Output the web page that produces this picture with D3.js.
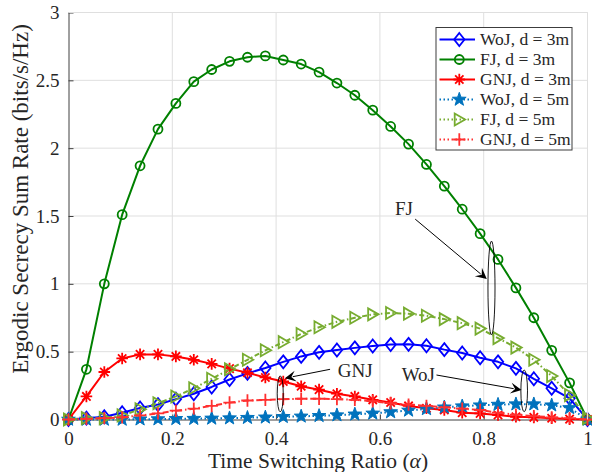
<!DOCTYPE html>
<html><head><meta charset="utf-8">
<script src="https://cdn.jsdelivr.net/npm/d3@7"></script>
<style>body{margin:0;background:#fff}svg{display:block}text{font-family:"Liberation Serif","DejaVu Serif",serif;fill:#262626}</style>
</head><body><svg id="c" width="592" height="472"></svg>
<script>
// ---- data ----
const alpha = [0,0.0345,0.069,0.1034,0.1379,0.1724,0.2069,0.2414,0.2759,0.3103,0.3448,0.3793,0.4138,0.4483,0.4828,0.5172,0.5517,0.5862,0.6207,0.6552,0.6897,0.7241,0.7586,0.7931,0.8276,0.8621,0.8966,0.931,0.9655,1];
const woj3 = [0,0.01,0.02,0.05,0.085,0.11,0.15,0.19,0.24,0.295,0.34,0.38,0.425,0.465,0.495,0.512,0.528,0.542,0.552,0.554,0.544,0.515,0.49,0.455,0.425,0.377,0.30,0.23,0.156,0];
const fj3  = [0,0.37,1.00,1.51,1.87,2.14,2.33,2.49,2.58,2.64,2.67,2.68,2.65,2.62,2.56,2.48,2.39,2.28,2.16,2.03,1.88,1.72,1.55,1.37,1.18,0.97,0.75,0.51,0.27,0];
const gnj3 = [0,0.17,0.35,0.45,0.48,0.48,0.465,0.44,0.41,0.375,0.345,0.31,0.28,0.245,0.22,0.19,0.17,0.145,0.125,0.10,0.083,0.07,0.05,0.045,0.033,0.02,0.016,0.009,0.003,0];
const woj5 = [0,0,0,0,0.002,0.003,0.005,0.006,0.008,0.01,0.013,0.016,0.02,0.023,0.027,0.032,0.038,0.045,0.055,0.067,0.078,0.09,0.098,0.105,0.11,0.113,0.113,0.105,0.085,0];
const fj5  = [0,0.01,0.01,0.03,0.075,0.12,0.17,0.23,0.30,0.37,0.44,0.51,0.57,0.63,0.68,0.72,0.75,0.775,0.785,0.78,0.765,0.74,0.71,0.67,0.60,0.53,0.44,0.32,0.18,0.01];
const gnj5 = [0,0.005,0.01,0.016,0.03,0.045,0.065,0.08,0.10,0.125,0.14,0.145,0.15,0.153,0.153,0.15,0.145,0.135,0.12,0.11,0.10,0.09,0.08,0.07,0.05,0.035,0.025,0.016,0.01,0];
const seriesNames = ["WoJ, d = 3m","FJ, d = 3m","GNJ, d = 3m","WoJ, d = 5m","FJ, d = 5m","GNJ, d = 5m"];
const xTicks = [0,0.2,0.4,0.6,0.8,1];
const xTickLabels = ["0","0.2","0.4","0.6","0.8","1"];
const yTicks = [0,0.5,1,1.5,2,2.5,3];
const yTickLabels = ["0","0.5","1","1.5","2","2.5","3"];
const xLabel = "Time Switching Ratio (";
const yLabel = "Ergodic Secrecy Sum Rate (bits/s/Hz)";
// annotations: [text, textX, textY, arrowFromX, arrowFromY, arrowToX, arrowToY, ellCx, ellCy, ellRx, ellRy]
const annotations = [
  ["FJ", 0.629, 1.507, 0.668, 1.477, 0.806, 1.035, 0.815, 0.969, 0.0068, 0.346],
  ["GNJ", 0.519, 0.313, 0.504, 0.370, 0.417, 0.304, 0.408, 0.189, 0.0058, 0.133],
  ["WoJ", 0.642, 0.287, 0.709, 0.328, 0.873, 0.217, 0.878, 0.211, 0.0064, 0.153]
];

// ---- chart ----
const svg = d3.select("#c");
const L = 68.5, R = 587.5, T = 12.5, B = 419.5;
const x = d3.scaleLinear().domain([0,1]).range([L,R]);
const y = d3.scaleLinear().domain([0,3]).range([B,T]);

// grid
const g = svg.append("g");
g.selectAll(".gx").data(xTicks.slice(1)).join("line")
  .attr("x1",d=>x(d)).attr("x2",d=>x(d)).attr("y1",T).attr("y2",B)
  .attr("stroke","#dfdfdf").attr("stroke-width",1);
g.selectAll(".gy").data(yTicks.slice(1)).join("line")
  .attr("y1",d=>y(d)).attr("y2",d=>y(d)).attr("x1",L).attr("x2",R)
  .attr("stroke","#dfdfdf").attr("stroke-width",1);

// axes
const xAxis = d3.axisBottom(x).tickValues(xTicks).tickFormat((d,i)=>xTickLabels[i]).tickSizeInner(-5).tickSizeOuter(0).tickPadding(12);
const yAxis = d3.axisLeft(y).tickValues(yTicks).tickFormat((d,i)=>yTickLabels[i]).tickSizeInner(-5).tickSizeOuter(0).tickPadding(9);
const gx = svg.append("g").attr("transform",`translate(0,${B})`).call(xAxis);
const gy = svg.append("g").attr("transform",`translate(${L},0)`).call(yAxis);
[gx,gy].forEach(a=>{
  a.select(".domain").attr("stroke","#404040").attr("stroke-width",1);
  a.selectAll(".tick line").attr("stroke","#404040");
  a.selectAll(".tick text").attr("font-family","Liberation Serif").attr("font-size",19).attr("fill","#262626");
});
gx.selectAll(".tick text").attr("dy","0.71em");

// axis labels
const xl = svg.append("text").attr("x",318).attr("y",468).attr("text-anchor","middle").attr("font-size",21.5);
xl.append("tspan").text(xLabel);
xl.append("tspan").attr("font-style","italic").text("\u03b1");
xl.append("tspan").text(")");
svg.append("text").attr("transform",`translate(28,199) rotate(-90)`).attr("text-anchor","middle").attr("font-size",23).text(yLabel);

// markers
function markerPath(type){
  switch(type){
    case "diamond": return `M0,${-6.5}L5.2,0L0,6.5L-5.2,0Z`;
    case "circle": return d3.symbol(d3.symbolCircle, Math.PI*4.5*4.5)();
    case "asterisk": { const a=5.8, b=a*0.72; return `M${-a},0L${a},0M0,${-a}L0,${a}M${-b},${-b}L${b},${b}M${-b},${b}L${b},${-b}`; }
    case "star": { let p=""; for(let k=0;k<10;k++){const r=k%2?2.9:7.2; const an=-Math.PI/2+k*Math.PI/5; p+=(k?"L":"M")+(r*Math.cos(an)).toFixed(2)+","+(r*Math.sin(an)).toFixed(2);} return p+"Z"; }
    case "triangle": return `M5.8,0L-4.6,-6L-4.6,6Z`;
    case "plus": return `M-6.2,0L6.2,0M0,-6.2L0,6.2`;
  }
}
const series = [
  {name:seriesNames[0], v:woj3, color:"#0000ff", dash:null, m:"diamond", fill:"none", lw:2},
  {name:seriesNames[1], v:fj3, color:"#008000", dash:null, m:"circle", fill:"none", lw:2},
  {name:seriesNames[2], v:gnj3, color:"#ff0000", dash:null, m:"asterisk", fill:"none", lw:2},
  {name:seriesNames[3], v:woj5, color:"#0072bd", dash:"1.5,2.5", m:"star", fill:"#0072bd", lw:2},
  {name:seriesNames[4], v:fj5, color:"#77ac30", dash:"1.5,2.5,5,2.5", m:"triangle", fill:"none", lw:2},
  {name:seriesNames[5], v:gnj5, color:"#ff3030", dash:"6,3,1.5,3", m:"plus", fill:"none", lw:2}
];
const line = d3.line().x((d,i)=>x(alpha[i])).y(d=>y(d));
series.forEach(s=>{
  const gg = svg.append("g");
  gg.append("path").datum(s.v).attr("d",line).attr("fill","none").attr("stroke",s.color)
    .attr("stroke-width",s.lw).attr("stroke-dasharray",s.dash).attr("stroke-linejoin","round");
  gg.selectAll("path.mk").data(s.v).join("path").attr("class","mk")
    .attr("transform",(d,i)=>`translate(${x(alpha[i])},${y(d)})`)
    .attr("d",markerPath(s.m)).attr("fill",s.fill).attr("stroke",s.color).attr("stroke-width",s.m==="star"?1:1.8);
});

// annotations
annotations.forEach(a=>{
  const [txt,tx,ty,fx,fy,ax,ay,ecx,ecy,erx,ery] = a;
  svg.append("text").attr("x",x(tx)).attr("y",y(ty)).attr("font-size",19).attr("fill","#000").text(txt);
  const x1=x(fx), y1=y(fy), x2=x(ax), y2=y(ay);
  const ang = Math.atan2(y2-y1,x2-x1);
  const hl=11, hw=5.5;
  const bx = x2-hl*Math.cos(ang), by=y2-hl*Math.sin(ang);
  svg.append("line").attr("x1",x1).attr("y1",y1).attr("x2",bx+3*Math.cos(ang)).attr("y2",by+3*Math.sin(ang)).attr("stroke","#000").attr("stroke-width",1);
  const nx=-Math.sin(ang), ny=Math.cos(ang);
  const nbx = x2-0.6*hl*Math.cos(ang), nby=y2-0.6*hl*Math.sin(ang);
  svg.append("path").attr("d",`M${x2},${y2}L${bx+hw*nx},${by+hw*ny}L${nbx},${nby}L${bx-hw*nx},${by-hw*ny}Z`).attr("fill","#000");
  svg.append("ellipse").attr("cx",x(ecx)).attr("cy",y(ecy)).attr("rx",x(erx)-x(0)).attr("ry",y(0)-y(ery))
    .attr("fill","none").attr("stroke","#000").attr("stroke-width",0.9);
});

// top/right frame (light)
svg.append("line").attr("x1",L).attr("x2",R).attr("y1",T).attr("y2",T).attr("stroke","#dfdfdf");
svg.append("line").attr("x1",R).attr("x2",R).attr("y1",T).attr("y2",B).attr("stroke","#dfdfdf");

// legend
const lg = svg.append("g");
const lx=436, ly=27.5, lw=136, lh=122.5;
lg.append("rect").attr("x",lx).attr("y",ly).attr("width",lw).attr("height",lh).attr("fill","#fff").attr("stroke","#3c3c3c").attr("stroke-width",1);
series.forEach((s,i)=>{
  const yy = 39.5 + i*20;
  lg.append("line").attr("x1",439.5).attr("x2",475).attr("y1",yy).attr("y2",yy).attr("stroke",s.color).attr("stroke-width",2).attr("stroke-dasharray",s.dash?"1.5,2.5":null);
  lg.append("path").attr("transform",`translate(459.3,${yy})`).attr("d",markerPath(s.m)).attr("fill",s.fill).attr("stroke",s.color).attr("stroke-width",s.m==="star"?1:1.8);
  lg.append("text").attr("x",480).attr("y",yy).attr("dy","0.33em").attr("font-size",17.5).attr("fill","#000").text(s.name);
});
</script></body></html>
